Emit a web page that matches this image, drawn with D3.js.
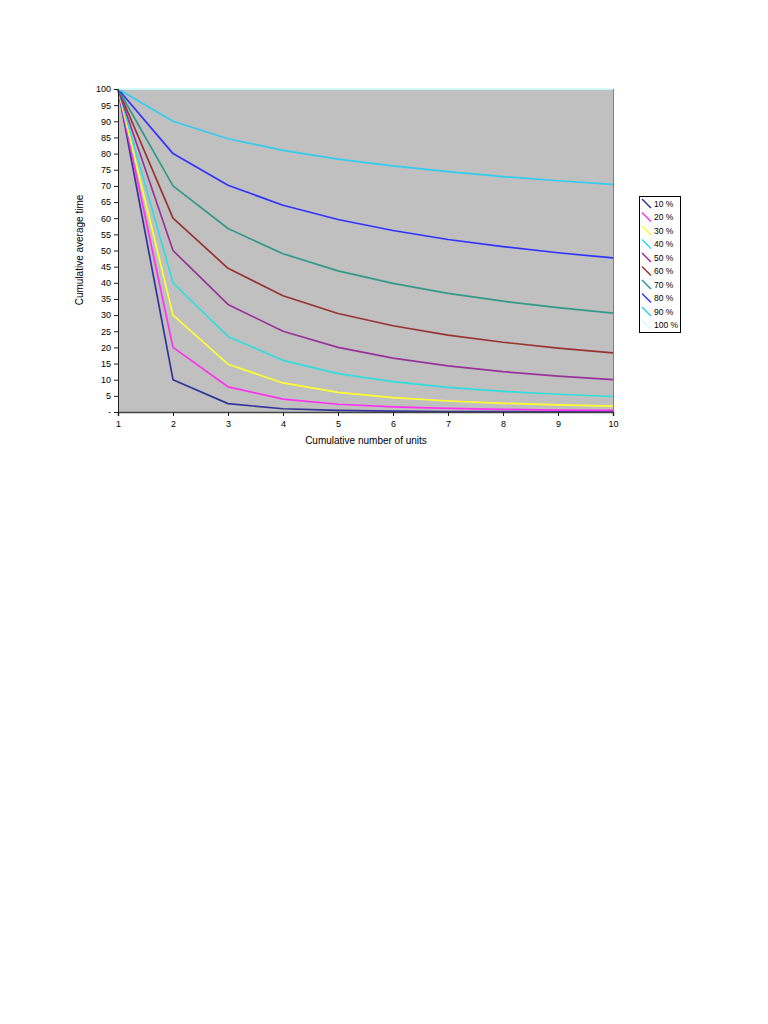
<!DOCTYPE html>
<html><head><meta charset="utf-8">
<script src="https://cdn.jsdelivr.net/npm/d3@7"></script>
<style>
body{margin:0;background:#fff;}
text{font-family:"Liberation Sans",Arial,sans-serif;}
</style></head>
<body>
<svg id="c" width="768" height="1024"></svg>
<script>
const units = [1,2,3,4,5,6,7,8,9,10];
const seriesNames = ["10%","20%","30%","40%","50%","60%","70%","80%","90%","100%"];
const s10  = [100,10,2.6,1.0,0.48,0.26,0.16,0.10,0.07,0.05];
const s20  = [100,20,7.8,4.0,2.4,1.6,1.1,0.8,0.6,0.5];
const s30  = [100,30,14.8,9.0,6.1,4.45,3.4,2.7,2.2,1.8];
const s40  = [100,40,23.4,16.0,11.9,9.4,7.6,6.4,5.5,4.8];
const s50  = [100,50,33.3,25.0,20.0,16.7,14.3,12.5,11.1,10.0];
const s60  = [100,60,44.5,36.0,30.5,26.7,23.8,21.6,19.8,18.3];
const s70  = [100,70,56.8,49.0,43.7,39.8,36.7,34.3,32.3,30.6];
const s80  = [100,80,70.2,64.0,59.6,56.2,53.4,51.2,49.3,47.7];
const s90  = [100,90,84.6,81.0,78.3,76.2,74.4,72.9,71.6,70.5];
const s100 = [100,100,100,100,100,100,100,100,100,100];
const yTicks = [0,5,10,15,20,25,30,35,40,45,50,55,60,65,70,75,80,85,90,95,100];
const colors = ["#333399","#FF33EE","#FFFF33","#33DDDD","#993399","#993333","#339988","#3333FF","#33CCEE","#CCFFFF"];
const allSeries = [s10,s20,s30,s40,s50,s60,s70,s80,s90,s100];

const svg = d3.select("#c");
const L=118,R=613,T=89,B=412;
const x = d3.scaleLinear().domain([1,10]).range([L,R]);
const y = d3.scaleLinear().domain([0,100]).range([B,T]);

svg.append("rect").attr("x",L).attr("y",T).attr("width",R-L).attr("height",B-T).attr("fill","#C0C0C0");
svg.append("line").attr("x1",R+0.5).attr("x2",R+0.5).attr("y1",T).attr("y2",B).attr("stroke","#808080").attr("stroke-width",1);

const line = d3.line().x((d,i)=>x(units[i])).y(d=>y(d));
allSeries.forEach((s,k)=>{
  svg.append("path").datum(s).attr("d",line).attr("fill","none")
    .attr("stroke",colors[k]).attr("stroke-width",1.7).attr("stroke-linejoin","round");
});

const xAxis = d3.axisBottom(x).tickValues(units).tickSize(4).tickFormat(d3.format("d"));
const gx = svg.append("g").attr("transform",`translate(0,${B})`).call(xAxis);
gx.select(".domain").attr("stroke","#444").attr("stroke-width",1.5);
gx.selectAll(".tick line").attr("stroke","#222");
gx.selectAll("text").attr("font-size",9).attr("fill","#000").attr("dy","0.9em");

const yAxis = d3.axisLeft(y).tickValues(yTicks).tickSize(4).tickFormat(d=>d===0?"-":d);
const gy = svg.append("g").attr("transform",`translate(${L},0)`).call(yAxis);
gy.select(".domain").attr("stroke","#222").attr("stroke-width",1);
gy.selectAll(".tick line").attr("stroke","#222");
gy.selectAll("text").attr("font-size",9).attr("fill","#000").attr("x",-7);

svg.append("text").attr("x",366).attr("y",444).attr("text-anchor","middle")
  .attr("font-size",10).text("Cumulative number of units");
svg.append("text").attr("transform","translate(83,250) rotate(-90)").attr("text-anchor","middle")
  .attr("font-size",10).text("Cumulative average time");

// legend
const lg = svg.append("g");
lg.append("rect").attr("x",639.5).attr("y",196.5).attr("width",41).attr("height",136)
  .attr("fill","#fff").attr("stroke","#000").attr("stroke-width",1);
seriesNames.forEach((n,k)=>{
  const cy = 203 + k*13.5;
  lg.append("line").attr("x1",642).attr("y1",cy-4).attr("x2",651).attr("y2",cy+5)
    .attr("stroke",colors[k]).attr("stroke-width",1.5);
  lg.append("text").attr("x",654).attr("y",cy+3.5).attr("font-size",8.5).text(n.replace("%"," %"));
});
</script>
</body></html>
